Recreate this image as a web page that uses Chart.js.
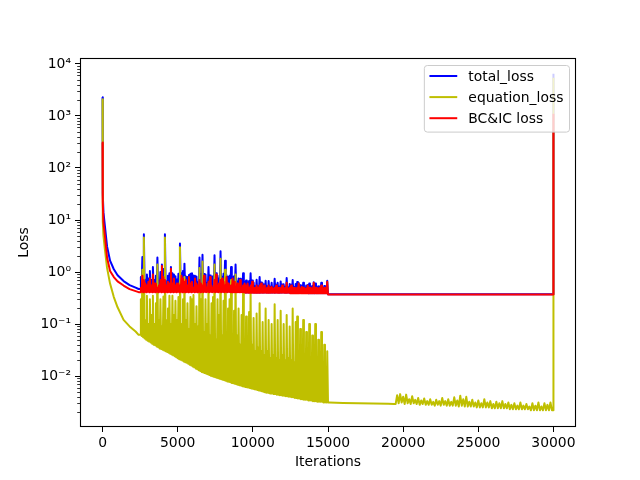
<!DOCTYPE html>
<html>
<head>
<meta charset="utf-8">
<title>Loss</title>
<script src="https://cdn.jsdelivr.net/npm/chart.js@4.4.0/dist/chart.umd.min.js"></script>
<style>
  html, body { margin: 0; padding: 0; background: #fff; }
  canvas { display: block; }
</style>
</head>
<body>
<canvas id="lossChart" width="640" height="480"></canvas>
<script>
// iterations logged during the noisy phase (0 - 15000)
const iterations = [
    0, 15, 60, 150, 300, 500, 750, 1000, 1400, 1800, 2200, 2400,
    2500, 2550, 2600, 2650, 2700, 2750, 2800, 2850, 2900, 2950,
    3000, 3050, 3100, 3150, 3200, 3250, 3300, 3350, 3400, 3450,
    3500, 3550, 3600, 3650, 3700, 3750, 3800, 3850, 3900, 3950,
    4000, 4050, 4100, 4150, 4200, 4250, 4300, 4350, 4400, 4450,
    4500, 4550, 4600, 4650, 4700, 4750, 4800, 4850, 4900, 4950,
    5000, 5050, 5100, 5150, 5200, 5250, 5300, 5350, 5400, 5450,
    5500, 5550, 5600, 5650, 5700, 5750, 5800, 5850, 5900, 5950,
    6000, 6050, 6100, 6150, 6200, 6250, 6300, 6350, 6400, 6450,
    6500, 6550, 6600, 6650, 6700, 6750, 6800, 6850, 6900, 6950,
    7000, 7050, 7100, 7150, 7200, 7250, 7300, 7350, 7400, 7450,
    7500, 7550, 7600, 7650, 7700, 7750, 7800, 7850, 7900, 7950,
    8000, 8050, 8100, 8150, 8200, 8250, 8300, 8350, 8400, 8450,
    8500, 8550, 8600, 8650, 8700, 8750, 8800, 8850, 8900, 8950,
    9000, 9050, 9100, 9150, 9200, 9250, 9300, 9350, 9400, 9450,
    9500, 9550, 9600, 9650, 9700, 9750, 9800, 9850, 9900, 9950,
    10000, 10050, 10100, 10150, 10200, 10250, 10300, 10350, 10400, 10450,
    10500, 10550, 10600, 10650, 10700, 10750, 10800, 10850, 10900, 10950,
    11000, 11050, 11100, 11150, 11200, 11250, 11300, 11350, 11400, 11450,
    11500, 11550, 11600, 11650, 11700, 11750, 11800, 11850, 11900, 11950,
    12000, 12050, 12100, 12150, 12200, 12250, 12300, 12350, 12400, 12450,
    12500, 12550, 12600, 12650, 12700, 12750, 12800, 12850, 12900, 12950,
    13000, 13050, 13100, 13150, 13200, 13250, 13300, 13350, 13400, 13450,
    13500, 13550, 13600, 13650, 13700, 13750, 13800, 13850, 13900, 13950,
    14000, 14050, 14100, 14150, 14200, 14250, 14300, 14350, 14400, 14450,
    14500, 14550, 14600, 14650, 14700, 14750, 14800, 14850, 14900, 14950,
    15000
]
const totalLoss = [
    2300, 31.5, 14, 8, 3.1, 1.65, 1.13, 0.87, 0.67, 0.56, 0.5, 0.472,
    0.47, 0.8, 0.48, 1.95, 0.47, 5.3, 0.47, 0.72, 0.46, 0.9,
    0.47, 0.75, 0.456, 1.05, 0.464, 0.7, 0.452, 1.25, 0.46, 0.7,
    0.449, 0.85, 0.457, 1.9, 0.446, 0.67, 0.454, 1.0, 0.443, 1.39,
    0.452, 1.14, 0.441, 5.3, 0.45, 0.67, 0.439, 0.85, 0.448, 0.95,
    0.437, 1.25, 0.446, 0.95, 0.435, 0.9, 0.444, 0.83, 0.433, 0.72,
    0.442, 0.93, 0.431, 3.55, 0.44, 0.95, 0.43, 1.05, 0.439, 1.45,
    0.428, 0.82, 0.438, 0.8, 0.427, 0.88, 0.436, 0.93, 0.426, 0.95,
    0.435, 0.86, 0.425, 0.85, 0.434, 0.82, 0.424, 0.64, 0.433, 1.9,
    0.422, 0.9, 0.432, 2.15, 0.422, 0.92, 0.431, 0.9, 0.421, 0.6,
    0.431, 1.25, 0.42, 0.86, 0.43, 0.8, 0.42, 0.83, 0.43, 2.1,
    0.42, 0.95, 0.429, 0.85, 0.419, 0.75, 0.429, 2.5, 0.419, 0.81,
    0.428, 0.93, 0.418, 1.65, 0.428, 0.87, 0.418, 0.8, 0.428, 0.85,
    0.418, 1.25, 0.417, 0.8, 0.417, 0.83, 0.417, 1.4, 0.417, 0.66,
    0.417, 0.75, 0.417, 0.74, 0.417, 0.65, 0.416, 0.95, 0.416, 0.65,
    0.406, 0.69, 0.406, 0.635, 0.406, 0.67, 0.406, 0.95, 0.406, 0.69,
    0.406, 0.63, 0.406, 0.53, 0.406, 0.71, 0.405, 0.535, 0.405, 0.8,
    0.405, 0.63, 0.405, 0.61, 0.405, 0.575, 0.405, 0.68, 0.405, 0.53,
    0.405, 0.67, 0.405, 0.522, 0.405, 0.62, 0.405, 0.505, 0.405, 0.74,
    0.405, 0.572, 0.404, 0.62, 0.404, 0.52, 0.404, 0.66, 0.404, 0.575,
    0.404, 0.58, 0.404, 0.52, 0.404, 0.77, 0.404, 0.502, 0.404, 0.59,
    0.394, 0.57, 0.394, 0.7, 0.394, 0.518, 0.394, 0.59, 0.394, 0.64,
    0.394, 0.618, 0.394, 0.56, 0.394, 0.536, 0.394, 0.62, 0.394, 0.497,
    0.394, 0.55, 0.394, 0.565, 0.393, 0.6, 0.393, 0.516, 0.393, 0.54,
    0.393, 0.634, 0.393, 0.6, 0.393, 0.515, 0.393, 0.53, 0.393, 0.514,
    0.393, 0.62, 0.393, 0.493, 0.393, 0.54, 0.393, 0.492, 0.393, 0.68,
    0.373
]
const equationLoss = [
    2100, 9.5, 5, 2.8, 1.2, 0.6, 0.33, 0.21, 0.12, 0.09, 0.072, 0.062,
    0.062, 0.3, 0.059, 1.1, 0.056, 4.6, 0.053, 0.12, 0.05, 0.35,
    0.048, 0.1, 0.046, 0.3, 0.044, 0.15, 0.042, 0.35, 0.04, 0.1,
    0.039, 0.25, 0.037, 1.4, 0.036, 0.12, 0.034, 0.3, 0.033, 0.09,
    0.032, 0.34, 0.031, 4.6, 0.03, 0.12, 0.029, 0.2, 0.028, 0.35,
    0.027, 0.1, 0.026, 0.35, 0.025, 0.15, 0.024, 0.28, 0.023, 0.12,
    0.022, 0.33, 0.021, 3.0, 0.0205, 0.1, 0.02, 0.3, 0.019, 0.8,
    0.0185, 0.12, 0.018, 0.25, 0.0172, 0.08, 0.0165, 0.33, 0.016, 0.3,
    0.0153, 0.36, 0.0147, 0.1, 0.014, 0.22, 0.0135, 0.09, 0.013, 1.2,
    0.0125, 0.3, 0.012, 1.6, 0.0117, 0.07, 0.0114, 0.3, 0.0111, 0.1,
    0.0108, 0.6, 0.0105, 0.06, 0.0102, 0.25, 0.0099, 0.33, 0.0097, 1.4,
    0.0095, 0.05, 0.0093, 0.3, 0.0091, 0.15, 0.0089, 1.8, 0.0087, 0.06,
    0.0085, 0.28, 0.0083, 1.1, 0.0081, 0.07, 0.0079, 0.2, 0.0078, 0.3,
    0.0076, 0.7, 0.0074, 0.05, 0.0073, 0.18, 0.0071, 0.9, 0.007, 0.06,
    0.0068, 0.2, 0.0067, 0.04, 0.0066, 0.15, 0.0064, 0.4, 0.0063, 0.05,
    0.0062, 0.14, 0.0061, 0.035, 0.006, 0.17, 0.0059, 0.4, 0.0058, 0.04,
    0.0057, 0.13, 0.0056, 0.03, 0.0055, 0.16, 0.0054, 0.035, 0.0053, 0.25,
    0.0052, 0.03, 0.0051, 0.11, 0.005, 0.025, 0.0049, 0.2, 0.0048, 0.03,
    0.0048, 0.12, 0.0047, 0.022, 0.0046, 0.1, 0.0046, 0.025, 0.0045, 0.24,
    0.0045, 0.022, 0.0044, 0.12, 0.0044, 0.02, 0.0043, 0.18, 0.0043, 0.025,
    0.0042, 0.1, 0.0042, 0.02, 0.0041, 0.15, 0.0041, 0.022, 0.004, 0.09,
    0.004, 0.02, 0.0039, 0.2, 0.0039, 0.018, 0.0038, 0.11, 0.0038, 0.14,
    0.0037, 0.018, 0.0037, 0.08, 0.0036, 0.016, 0.0036, 0.12, 0.0035, 0.017,
    0.0035, 0.07, 0.0035, 0.015, 0.0034, 0.1, 0.0034, 0.016, 0.0034, 0.06,
    0.0033, 0.014, 0.0033, 0.1, 0.0033, 0.015, 0.0032, 0.05, 0.0032, 0.014,
    0.0032, 0.07, 0.0032, 0.013, 0.0031, 0.04, 0.0031, 0.012, 0.0031, 0.03,
    0.0031
]
const bcLoss = [
    310, 22, 9, 5.2, 1.9, 1.05, 0.8, 0.66, 0.55, 0.47, 0.43, 0.41,
    0.41, 0.5, 0.42, 0.85, 0.41, 0.7, 0.42, 0.6, 0.41, 0.55,
    0.42, 0.65, 0.41, 0.75, 0.42, 0.55, 0.41, 0.9, 0.42, 0.6,
    0.41, 0.6, 0.42, 0.5, 0.41, 0.55, 0.42, 0.7, 0.41, 1.3,
    0.42, 0.8, 0.41, 0.7, 0.42, 0.55, 0.41, 0.65, 0.42, 0.6,
    0.41, 1.15, 0.42, 0.6, 0.41, 0.75, 0.42, 0.55, 0.41, 0.6,
    0.42, 0.6, 0.41, 0.55, 0.42, 0.85, 0.41, 0.75, 0.42, 0.65,
    0.41, 0.7, 0.42, 0.55, 0.41, 0.8, 0.42, 0.6, 0.41, 0.65,
    0.42, 0.5, 0.41, 0.75, 0.42, 0.6, 0.41, 0.55, 0.42, 0.7,
    0.41, 0.6, 0.42, 0.55, 0.41, 0.85, 0.42, 0.6, 0.41, 0.5,
    0.42, 0.65, 0.41, 0.8, 0.42, 0.55, 0.41, 0.5, 0.42, 0.7,
    0.41, 0.9, 0.42, 0.55, 0.41, 0.6, 0.42, 0.7, 0.41, 0.75,
    0.42, 0.65, 0.41, 0.55, 0.42, 0.8, 0.41, 0.6, 0.42, 0.55,
    0.41, 0.55, 0.41, 0.75, 0.41, 0.65, 0.41, 0.5, 0.41, 0.6,
    0.41, 0.55, 0.41, 0.7, 0.41, 0.5, 0.41, 0.55, 0.41, 0.6,
    0.4, 0.55, 0.4, 0.6, 0.4, 0.5, 0.4, 0.55, 0.4, 0.65,
    0.4, 0.5, 0.4, 0.5, 0.4, 0.55, 0.4, 0.5, 0.4, 0.55,
    0.4, 0.6, 0.4, 0.5, 0.4, 0.55, 0.4, 0.48, 0.4, 0.5,
    0.4, 0.55, 0.4, 0.5, 0.4, 0.52, 0.4, 0.48, 0.4, 0.5,
    0.4, 0.55, 0.4, 0.5, 0.4, 0.5, 0.4, 0.48, 0.4, 0.55,
    0.4, 0.48, 0.4, 0.5, 0.4, 0.62, 0.4, 0.48, 0.4, 0.5,
    0.39, 0.55, 0.39, 0.5, 0.39, 0.5, 0.39, 0.48, 0.39, 0.5,
    0.39, 0.6, 0.39, 0.48, 0.39, 0.52, 0.39, 0.5, 0.39, 0.48,
    0.39, 0.48, 0.39, 0.55, 0.39, 0.5, 0.39, 0.5, 0.39, 0.48,
    0.39, 0.62, 0.39, 0.5, 0.39, 0.5, 0.39, 0.48, 0.39, 0.5,
    0.39, 0.55, 0.39, 0.48, 0.39, 0.5, 0.39, 0.48, 0.39, 0.65,
    0.37
]

// after 15000 total and BC&IC loss stay flat until the jump at the last step
const tailIterations = [15100, 20000, 25000, 29990, 30000]
const totalTail = [0.373, 0.373, 0.372, 0.372, 6500]
const bcTail = [0.37, 0.37, 0.37, 0.37, 1100]

// equation loss keeps a small noise band from ~19500 on
const eqTailIterations = [
    15100, 16000, 17000, 18000, 19000, 19400,
    19500, 19600, 19700, 19800, 19900, 20000, 20100, 20200, 20300, 20400,
    20500, 20600, 20700, 20800, 20900, 21000, 21100, 21200, 21300, 21400,
    21500, 21600, 21700, 21800, 21900, 22000, 22100, 22200, 22300, 22400,
    22500, 22600, 22700, 22800, 22900, 23000, 23100, 23200, 23300, 23400,
    23500, 23600, 23700, 23800, 23900, 24000, 24100, 24200, 24300, 24400,
    24500, 24600, 24700, 24800, 24900, 25000, 25100, 25200, 25300, 25400,
    25500, 25600, 25700, 25800, 25900, 26000, 26100, 26200, 26300, 26400,
    26500, 26600, 26700, 26800, 26900, 27000, 27100, 27200, 27300, 27400,
    27500, 27600, 27700, 27800, 27900, 28000, 28100, 28200, 28300, 28400,
    28500, 28600, 28700, 28800, 28900, 29000, 29100, 29200, 29300, 29400,
    29500, 29600, 29700, 29800, 29900, 29990, 30000
]
const eqTail = [
    0.0031, 0.00305, 0.003, 0.00298, 0.00295, 0.0029,
    0.0029, 0.0043, 0.003, 0.0045, 0.0031, 0.004, 0.0029, 0.0044, 0.003, 0.0036,
    0.0029, 0.0041, 0.003, 0.0035, 0.0029, 0.0038, 0.0028, 0.0034, 0.0029, 0.0037,
    0.0028, 0.0033, 0.0028, 0.0036, 0.0028, 0.0032, 0.0027, 0.0035, 0.0028, 0.0033,
    0.0027, 0.0038, 0.0028, 0.0033, 0.0027, 0.0036, 0.0027, 0.0032, 0.0027, 0.0039,
    0.0027, 0.0034, 0.0026, 0.0042, 0.0027, 0.0036, 0.0026, 0.004, 0.0026, 0.0032,
    0.0026, 0.0035, 0.0026, 0.0031, 0.0025, 0.0034, 0.0025, 0.003, 0.0025, 0.0036,
    0.0025, 0.0031, 0.0025, 0.0033, 0.0024, 0.0029, 0.0024, 0.0032, 0.0024, 0.003,
    0.0024, 0.0033, 0.0024, 0.0029, 0.0024, 0.0031, 0.0023, 0.0028, 0.0023, 0.003,
    0.0023, 0.0027, 0.0023, 0.0031, 0.0023, 0.0027, 0.0023, 0.0029, 0.0023, 0.0026,
    0.0022, 0.003, 0.0022, 0.0027, 0.0022, 0.0031, 0.0022, 0.0026, 0.0022, 0.003,
    0.0022, 0.0028, 0.0022, 0.0031, 0.0022, 0.0022, 5400
]

const seriesLabels = ['total_loss', 'equation_loss', 'BC&IC loss']
const xTickValues = [0, 5000, 10000, 15000, 20000, 25000, 30000]
const yTickValues = [1e-2, 1e-1, 1, 10, 100, 1000, 10000]
const yTickLabels = ['10\u207b\u00b2', '10\u207b\u00b9', '10\u2070', '10\u00b9', '10\u00b2', '10\u00b3', '10\u2074']

const FONT = 'DejaVu Sans'
const FONT_SIZE = 13.9

function toPoints(xs, ys) {
    return xs.map((x, i) => ({ x: x, y: ys[i] }))
}

// minor log ticks, full frame and a matplotlib-like legend box
const mplLook = {
    id: 'mplLook',
    afterDraw(chart) {
        const ctx = chart.ctx
        const a = chart.chartArea
        const y = chart.scales.y
        ctx.save()
        ctx.strokeStyle = '#000'
        ctx.lineWidth = 0.8
        ctx.beginPath()
        for (let k = -4; k <= 4; k++) {
            for (let m = 2; m <= 9; m++) {
                const v = m * Math.pow(10, k)
                if (v < y.min || v > y.max) continue
                const py = Math.round(y.getPixelForValue(v)) + 0.5
                ctx.moveTo(a.left, py)
                ctx.lineTo(a.left - 2.8, py)
            }
        }
        ctx.stroke()

        ctx.lineWidth = 1.1
        ctx.strokeRect(a.left + 0.5, a.top + 0.5, a.right - a.left - 1, a.bottom - a.top - 1)

        // legend
        const sets = chart.data.datasets
        ctx.font = FONT_SIZE + 'px "' + FONT + '"'
        let textW = 0
        sets.forEach(ds => { textW = Math.max(textW, ctx.measureText(ds.label).width) })
        const pad = 5.6, handle = 27.8, gap = 11.1, rowH = 21.1
        const boxW = pad + handle + gap + textW + pad
        const boxH = 11 + rowH * (sets.length - 1) + 13.4
        const bx = a.right - 7 - boxW
        const by = a.top + 7
        ctx.beginPath()
        ctx.roundRect(bx + 0.5, by + 0.5, boxW, boxH, 3)
        ctx.fillStyle = 'rgba(255,255,255,0.8)'
        ctx.fill()
        ctx.strokeStyle = '#cccccc'
        ctx.lineWidth = 1
        ctx.stroke()
        ctx.textBaseline = 'middle'
        ctx.textAlign = 'left'
        sets.forEach((ds, i) => {
            const ry = by + 11 + rowH * i
            ctx.strokeStyle = ds.borderColor
            ctx.lineWidth = 2
            ctx.beginPath()
            ctx.moveTo(bx + pad, ry)
            ctx.lineTo(bx + pad + handle, ry)
            ctx.stroke()
            ctx.fillStyle = '#000'
            ctx.fillText(ds.label, bx + pad + handle + gap, ry + 1)
        })
        ctx.restore()
    }
}

const lineStyle = {
    borderWidth: 2,
    pointRadius: 0,
    tension: 0,
    fill: false,
    borderJoinStyle: 'round'
}

new Chart(document.getElementById('lossChart').getContext('2d'), {
    type: 'line',
    data: {
        datasets: [
            Object.assign({
                label: seriesLabels[0],
                data: toPoints(iterations, totalLoss).concat(toPoints(tailIterations, totalTail)),
                borderColor: '#0000ff',
                order: 3
            }, lineStyle),
            Object.assign({
                label: seriesLabels[1],
                data: toPoints(iterations, equationLoss).concat(toPoints(eqTailIterations, eqTail)),
                borderColor: '#bfbf00',
                order: 2
            }, lineStyle),
            Object.assign({
                label: seriesLabels[2],
                data: toPoints(iterations, bcLoss).concat(toPoints(tailIterations, bcTail)),
                borderColor: '#ff0000',
                order: 1
            }, lineStyle)
        ]
    },
    options: {
        responsive: false,
        animation: false,
        devicePixelRatio: 1,
        events: [],
        layout: { padding: { top: 58, right: 64, left: 0, bottom: 0 } },
        plugins: {
            legend: { display: false },
            tooltip: { enabled: false }
        },
        scales: {
            x: {
                type: 'linear',
                min: -1500,
                max: 31500,
                afterBuildTicks: s => { s.ticks = xTickValues.map(v => ({ value: v })) },
                afterFit: s => { s.height = 53 },
                grid: { display: true, drawOnChartArea: false, drawTicks: true, tickLength: 5, color: '#000', lineWidth: 1 },
                border: { display: false },
                ticks: {
                    autoSkip: false,
                    maxRotation: 0,
                    padding: 3,
                    color: '#000',
                    font: { family: FONT, size: FONT_SIZE },
                    callback: v => String(v)
                },
                title: {
                    display: true,
                    text: 'Iterations',
                    color: '#000',
                    font: { family: FONT, size: FONT_SIZE },
                    padding: { top: 0, bottom: 9 }
                }
            },
            y: {
                type: 'logarithmic',
                min: 0.00105,
                max: 13000,
                afterBuildTicks: s => { s.ticks = yTickValues.map(v => ({ value: v })) },
                afterFit: s => { s.width = 80 },
                grid: { display: true, drawOnChartArea: false, drawTicks: true, tickLength: 5, color: '#000', lineWidth: 1 },
                border: { display: false },
                ticks: {
                    autoSkip: false,
                    padding: 4,
                    color: '#000',
                    font: { family: FONT, size: FONT_SIZE },
                    callback: (v, i) => yTickLabels[i]
                },
                title: {
                    display: true,
                    text: 'Loss',
                    color: '#000',
                    font: { family: FONT, size: FONT_SIZE },
                    padding: { top: 16, bottom: 0 }
                }
            }
        }
    },
    plugins: [mplLook]
})
</script>
</body>
</html>
